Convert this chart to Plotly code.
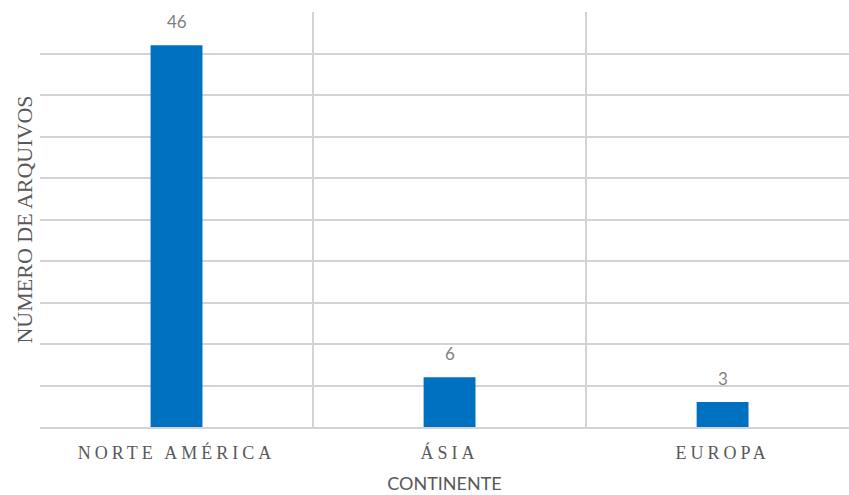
import plotly.graph_objects as go

# Número de arquivos por continente
continentes = ["NORTE AMÉRICA", "ÁSIA", "EUROPA"]
arquivos = [46, 6, 3]

posicoes = list(range(len(continentes)))

fig = go.Figure(
    go.Bar(
        x=posicoes,
        y=arquivos,
        width=0.19,
        marker=dict(color="#0070C0", line=dict(width=0)),
        hoverinfo="skip",
    )
)

# Rótulos de valor acima de cada barra
for xp, v in zip(posicoes, arquivos):
    fig.add_annotation(
        x=xp, y=v, text=str(v), showarrow=False,
        yanchor="bottom", yshift=11,
        font=dict(family="Lato, Open Sans, sans-serif", size=17, color="#7F7F7F"),
    )

fig.update_layout(
    width=849,
    height=495,
    margin=dict(l=40, r=0, t=12, b=68),
    paper_bgcolor="white",
    plot_bgcolor="white",
    showlegend=False,
)

fig.update_xaxes(
    range=[-0.5, 2.463],
    tickvals=posicoes,
    ticktext=continentes,
    tickfont=dict(family="Liberation Serif, serif", size=18, color="#595959"),
    showgrid=False,
    minor=dict(tickvals=[-0.5, 0.5, 1.5], showgrid=True, gridcolor="#D3D3D3", gridwidth=1.5),
    showline=True,
    linecolor="#D3D3D3",
    linewidth=1.5,
    ticks="",
    ticklabelstandoff=9,
    title=dict(
        text="CONTINENTE",
        font=dict(family="Lato, Open Sans, sans-serif", size=18, color="#595959"),
        standoff=15,
    ),
    zeroline=False,
)

fig.update_yaxes(
    range=[0, 50],
    dtick=5,
    showticklabels=False,
    showgrid=True,
    gridcolor="#D3D3D3",
    gridwidth=1.5,
    zeroline=False,
    showline=False,
    title=dict(
        text="NÚMERO DE ARQUIVOS",
        font=dict(family="Liberation Serif, serif", size=22, color="#595959"),
        standoff=0,
    ),
)

# Espaçamento entre letras dos rótulos das categorias
post_js = """
document.querySelectorAll('.xtick text').forEach(function(t){
  t.style.letterSpacing = '4px';
});
"""

fig.write_html("out.html", post_script=post_js)
